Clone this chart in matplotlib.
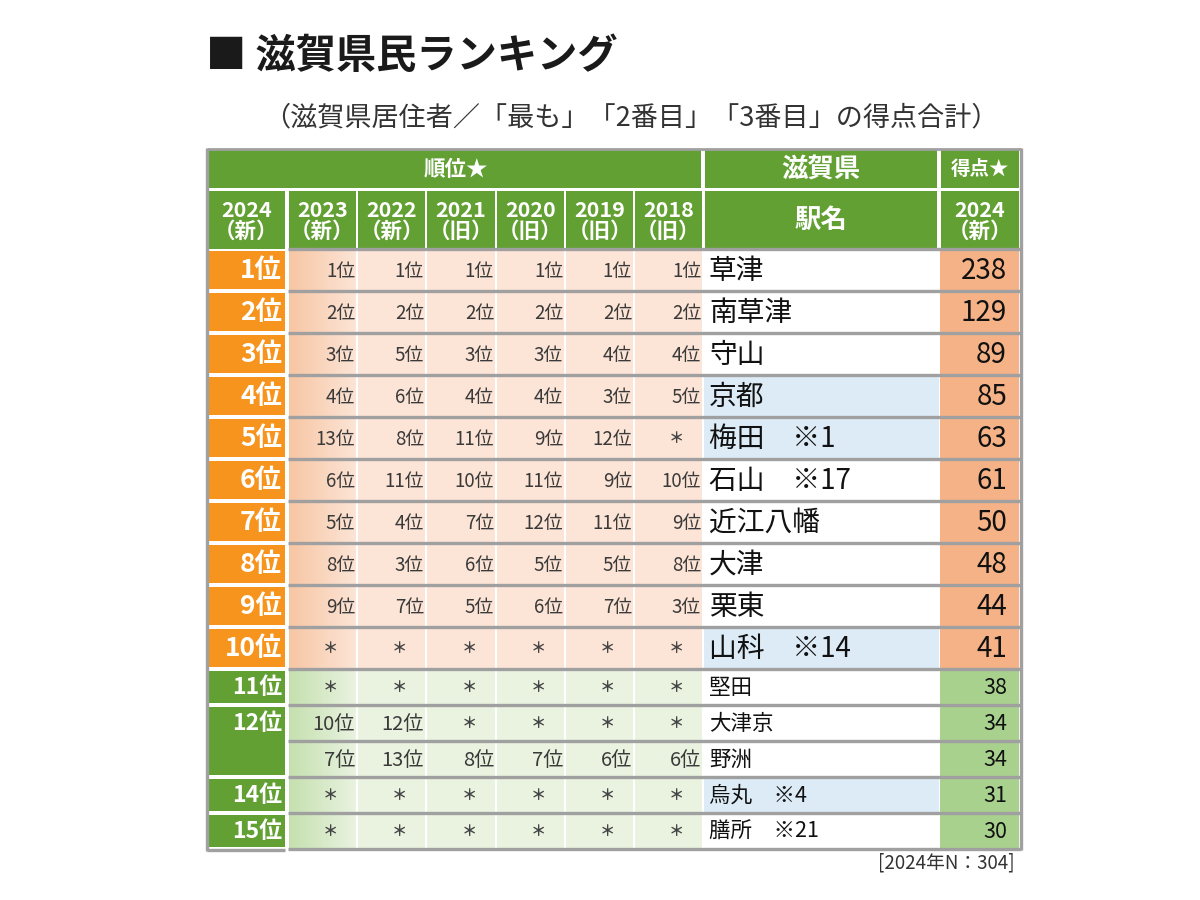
import matplotlib
matplotlib.use("Agg")
import matplotlib.pyplot as plt
from matplotlib.patches import Rectangle
import numpy as np

plt.rcParams['font.family'] = ['Noto Sans CJK JP', 'DejaVu Sans']

# ---------------- data ----------------
title = "■ 滋賀県民ランキング"
subtitle = "（滋賀県居住者／「最も」「2番目」「3番目」の得点合計）"
footer = "[2024年N：304]"

rank_2024 = ["1位", "2位", "3位", "4位", "5位", "6位", "7位", "8位", "9位", "10位",
             "11位", "12位", "", "14位", "15位"]
stations = ["草津", "南草津", "守山", "京都", "梅田　※1", "石山　※17", "近江八幡", "大津",
            "栗東", "山科　※14", "堅田", "大津京", "野洲", "烏丸　※4", "膳所　※21"]
outside_shiga = [False, False, False, True, True, False, False, False, False, True,
                 False, False, False, True, False]
scores_2024 = [238, 129, 89, 85, 63, 61, 50, 48, 44, 41, 38, 34, 34, 31, 30]

years = ["2023", "2022", "2021", "2020", "2019", "2018"]
year_kind = ["（新）", "（新）", "（旧）", "（旧）", "（旧）", "（旧）"]
rank_2023 = [1, 2, 3, 4, 13, 6, 5, 8, 9, None, None, 10, 7, None, None]
rank_2022 = [1, 2, 5, 6, 8, 11, 4, 3, 7, None, None, 12, 13, None, None]
rank_2021 = [1, 2, 3, 4, 11, 10, 7, 6, 5, None, None, None, 8, None, None]
rank_2020 = [1, 2, 3, 4, 9, 11, 12, 5, 6, None, None, None, 7, None, None]
rank_2019 = [1, 2, 4, 3, 12, 9, 11, 5, 7, None, None, None, 6, None, None]
rank_2018 = [1, 2, 4, 5, None, 10, 9, 8, 3, None, None, None, 6, None, None]
past_ranks = [rank_2023, rank_2022, rank_2021, rank_2020, rank_2019, rank_2018]

# ---------------- style ----------------
GREEN = "#62A033"
ORANGE = "#F7941D"
PEACH = "#FCE4D6"
PEACH_DARK = "#F7C6A4"
SCORE_ORANGE = "#F5B286"
LGREEN = "#E9F3E0"
LGREEN_DARK = "#C5E0AF"
SCORE_GREEN = "#A9D18E"
BLUE = "#DDEBF7"
GRAY = "#A0A0A0"
TXT = "#3A3A3A"

fig = plt.figure(figsize=(12, 9), dpi=100)
ax = fig.add_axes([0, 0, 1, 1])
ax.set_xlim(0, 1200)
ax.set_ylim(900, 0)
ax.axis('off')


def rect(x0, y0, x1, y1, color, z=1):
    ax.add_patch(Rectangle((x0, y0), x1 - x0, y1 - y0, facecolor=color,
                           edgecolor='none', zorder=z))


def gradient(x0, y0, x1, y1, c_left, c_right, z=1):
    cl = np.array(matplotlib.colors.to_rgb(c_left))
    cr = np.array(matplotlib.colors.to_rgb(c_right))
    t = np.linspace(0, 1, 64)[None, :, None]
    img = cl[None, None, :] * (1 - t) + cr[None, None, :] * t
    ax.imshow(img, extent=(x0, x1, y1, y0), aspect='auto', zorder=z,
              interpolation='bilinear')


# layout
xs = [208, 288, 357, 426, 496, 565, 634, 703, 939, 1019]
hy = [150, 189, 249]
row_h = [42] * 10 + [36] * 5
ry = [249]
for h in row_h:
    ry.append(ry[-1] + h)

# title
ax.text(206, 57, title, fontsize=29, fontweight='bold', ha='left', va='center',
        color='#1a1a1a')
ax.text(631, 118, subtitle, fontsize=19.5, ha='center', va='center', color='#333333')

# header row 1
rect(208, hy[0], xs[7] - 2, hy[1] - 1, GREEN)
rect(xs[7] + 2, hy[0], xs[8] - 2, hy[1] - 1, GREEN)
rect(xs[8] + 2, hy[0], xs[9], hy[1] - 1, GREEN)
ax.text((208 + xs[7]) / 2, (hy[0] + hy[1]) / 2, "順位★", fontsize=15.5,
        fontweight='bold', color='white', ha='center', va='center')
ax.text((xs[7] + xs[8]) / 2, (hy[0] + hy[1]) / 2 + 1, "滋賀県", fontsize=19,
        fontweight='bold', color='white', ha='center', va='center')
ax.text((xs[8] + xs[9]) / 2 + 1, (hy[0] + hy[1]) / 2, "得点★", fontsize=14,
        fontweight='bold', color='white', ha='center', va='center')

# header row 2
y0h, y1h = hy[1] + 2, hy[2]
HS = 15.5
rect(208, y0h, xs[1] - 3, y1h, GREEN)
ax.text((208 + xs[1] - 3) / 2, (y0h + y1h) / 2 + 1, "2024\n（新）", fontsize=HS,
        fontweight='bold', color='white', ha='center', va='center', linespacing=0.98)
for i, (yr, kd) in enumerate(zip(years, year_kind)):
    a, b = xs[i + 1] + 1, xs[i + 2] - 1
    rect(a, y0h, b, y1h, GREEN)
    ax.text((a + b) / 2, (y0h + y1h) / 2 + 1, yr + "\n" + kd, fontsize=HS,
            fontweight='bold', color='white', ha='center', va='center', linespacing=0.98)
rect(xs[7] + 2, y0h, xs[8] - 2, y1h, GREEN)
ax.text((xs[7] + xs[8]) / 2, (y0h + y1h) / 2, "駅名", fontsize=19,
        fontweight='bold', color='white', ha='center', va='center')
rect(xs[8] + 2, y0h, xs[9], y1h, GREEN)
ax.text((xs[8] + xs[9]) / 2 + 1, (y0h + y1h) / 2 + 1, "2024\n（新）", fontsize=HS,
        fontweight='bold', color='white', ha='center', va='center', linespacing=0.98)

# data rows
n = len(stations)
for r in range(n):
    y0, y1 = ry[r], ry[r + 1]
    yc = (y0 + y1) / 2
    top = r < 10
    rank_col = ORANGE if top else GREEN
    light = PEACH if top else LGREEN
    dark = PEACH_DARK if top else LGREEN_DARK
    score_col = SCORE_ORANGE if top else SCORE_GREEN

    # 2024 rank (12位 spans two rows)
    if r == 11:
        rect(208, y0 + 2, xs[1] - 3, ry[r + 2] - 2, rank_col)
    elif r != 12:
        rect(208, y0 + 2, xs[1] - 3, y1 - 2, rank_col)
    if rank_2024[r]:
        ax.text(xs[1] - 6, yc + 1, rank_2024[r], fontsize=19 if top else 16.5,
                fontweight='bold', color='white', ha='right', va='center')

    # past ranks
    for i, col in enumerate(past_ranks):
        a, b = xs[i + 1] + 1, xs[i + 2] - 1
        if i == 0:
            gradient(a, y0, b, y1, dark, light)
        else:
            rect(a, y0, b, y1, light)
        v = col[r]
        if v is None:
            ax.text((a + b) / 2 + 8, yc, "＊", fontsize=11, color='#444444',
                    fontweight='bold', ha='center', va='center')
        else:
            ax.text(b - 1, yc + 1, f"{v}位", fontsize=13.5 if top else 14.5, color=TXT,
                    ha='right', va='center')

    # station
    rect(xs[7] + 1, y0, xs[8], y1, BLUE if outside_shiga[r] else 'white')
    ax.text(xs[7] + 6, yc + 1, stations[r], fontsize=20 if top else 15.5,
            color='#111111', ha='left', va='center')

    # score
    rect(xs[8] + 1, y0, xs[9], y1, score_col)
    ax.text(xs[9] - 12, yc + 1, str(scores_2024[r]), fontsize=20 if top else 15.5,
            color='#111111', ha='right', va='center')

# grid lines
for y in ry:
    ax.plot([xs[1], 1021], [y, y], color=GRAY, lw=2.4, zorder=5,
            solid_capstyle='butt')
ax.plot([207, xs[1] - 3], [ry[-1] + 1, ry[-1] + 1], color=GRAY, lw=2.4, zorder=5,
        solid_capstyle='butt')
ax.plot([207, 1021], [148.5, 148.5], color=GRAY, lw=2.0, zorder=5,
        solid_capstyle='butt')
ax.plot([207, 207], [148, ry[-1] + 2], color=GRAY, lw=2.4, zorder=5,
        solid_capstyle='butt')
ax.plot([1020.5, 1020.5], [148, ry[-1] + 1], color=GRAY, lw=2.4, zorder=5,
        solid_capstyle='butt')

# footer
ax.text(1015, 863, footer, fontsize=13.5, color='#333333', ha='right', va='center')

ax.set_xlim(0, 1200)
ax.set_ylim(900, 0)
fig.savefig("out.png", dpi=100, facecolor='white')
